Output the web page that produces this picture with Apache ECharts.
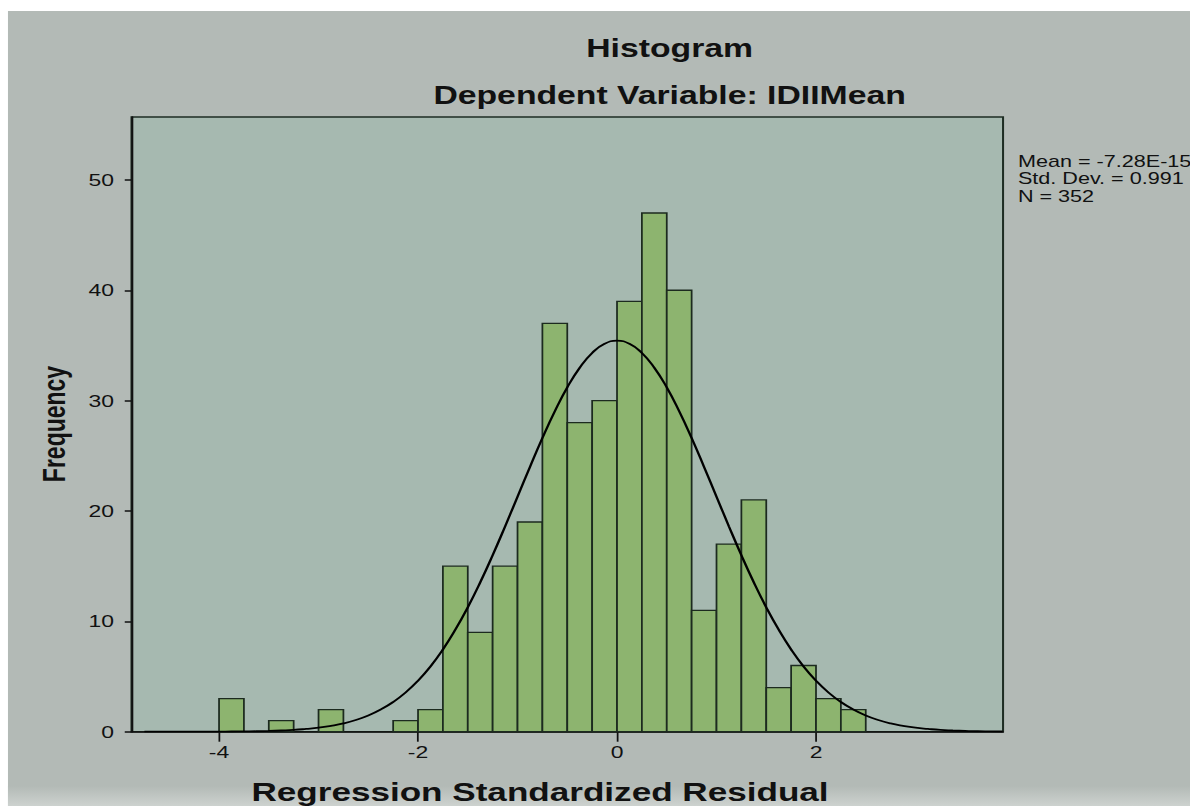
<!DOCTYPE html>
<html>
<head>
<meta charset="utf-8">
<title>Histogram</title>
<script src="https://cdn.jsdelivr.net/npm/echarts@6/dist/echarts.min.js"></script>
<style>
  html, body { margin: 0; padding: 0; background: #fff; overflow: hidden; }
  /* the source picture is stretched sideways, so draw narrow and stretch it */
  #chart { width: 882px; height: 806px; transform: scaleX(1.35); transform-origin: 0 0; }
</style>
</head>
<body>
<div id="chart"></div>
<script>
// histogram bins: lower edge of each bin (width 0.25) and its count
const binStart = [-4, -3.5, -3, -2.25, -2, -1.75, -1.5, -1.25, -1, -0.75, -0.5, -0.25,
  0, 0.25, 0.5, 0.75, 1, 1.25, 1.5, 1.75, 2, 2.25];
const binCount = [3, 1, 2, 1, 2, 15, 9, 15, 19, 37, 28, 30,
  39, 47, 40, 11, 17, 21, 4, 6, 3, 2];
const binWidth = 0.25;

// normal curve
const curveX = [-4.75, -4.5, -4.25,
  -4, -3.875, -3.75, -3.625, -3.5, -3.375, -3.25, -3.125,
  -3, -2.875, -2.75, -2.625, -2.5, -2.375, -2.25, -2.125,
  -2, -1.875, -1.75, -1.625, -1.5, -1.375, -1.25, -1.125,
  -1, -0.875, -0.75, -0.625, -0.5, -0.375, -0.25, -0.125,
  0, 0.125, 0.25, 0.375, 0.5, 0.625, 0.75, 0.875,
  1, 1.125, 1.25, 1.375, 1.5, 1.625, 1.75, 1.875,
  2, 2.125, 2.25, 2.375, 2.5, 2.625, 2.75, 2.875,
  3, 3.125, 3.25, 3.375, 3.5, 3.625, 3.75, 3.875];
const curveY = [0, 0, 0,
  0.01, 0.02, 0.03, 0.04, 0.07, 0.11, 0.16, 0.25,
  0.36, 0.53, 0.75, 1.06, 1.47, 2.01, 2.69, 3.55,
  4.62, 5.91, 7.45, 9.24, 11.27, 13.53, 15.99, 18.6,
  21.29, 23.99, 26.61, 29.04, 31.2, 32.98, 34.32, 35.15,
  35.43, 35.15, 34.32, 32.98, 31.2, 29.04, 26.61, 23.99,
  21.29, 18.6, 15.99, 13.53, 11.27, 9.24, 7.45, 5.91,
  4.62, 3.55, 2.69, 2.01, 1.47, 1.06, 0.75, 0.53,
  0.36, 0.25, 0.16, 0.11, 0.07, 0.04, 0.03, 0.02];

const xTicks = [-4, -2, 0, 2];
const yTicks = [0, 10, 20, 30, 40, 50];
const statLines = ["Mean = -7.28E-15", "Std. Dev. = 0.991", "N = 352"];

const font = "Liberation Sans, Arial, sans-serif";
const ink = "#111";

const chart = echarts.init(document.getElementById("chart"), null, { renderer: "svg" });

const option = {
  backgroundColor: "#b3bab6",
  animation: false,
  grid: {
    left: 97.4,
    right: 139,
    top: 117,
    bottom: 74.3,
    show: true,
    backgroundColor: "#a6b9b0",
    borderColor: "#1e2d23",
    borderWidth: 1.5,
  },
  xAxis: {
    type: "value",
    min: -4.88,
    max: 3.88,
    splitLine: { show: false },
    axisLine: { onZero: false, lineStyle: { color: "#111", width: 1.5 } },
    axisTick: { show: true, customValues: xTicks, length: 10, lineStyle: { color: "#111", width: 1.3 } },
    axisLabel: { customValues: xTicks, margin: 12, fontSize: 17, color: ink, fontFamily: font },
  },
  yAxis: {
    type: "value",
    min: 0,
    max: 55.7,
    splitLine: { show: false },
    axisLine: { show: true, onZero: false, lineStyle: { color: "#111", width: 1.5 } },
    axisTick: { show: true, customValues: yTicks, length: 5, lineStyle: { color: "#111", width: 1.5 } },
    axisLabel: { customValues: yTicks, margin: 13, fontSize: 17, color: ink, fontFamily: font },
  },
  series: [
    {
      type: "custom",
      data: binStart.map((s, i) => [s, s + binWidth, binCount[i]]),
      encode: { x: [0, 1], y: 2 },
      renderItem(params, api) {
        const top = api.coord([api.value(0), api.value(2)]);
        const bottom = api.coord([api.value(1), 0]);
        return {
          type: "rect",
          shape: { x: top[0], y: top[1], width: bottom[0] - top[0], height: bottom[1] - top[1] },
          style: { fill: "#8db46f", stroke: "#1c2a1f", lineWidth: 1.3 },
        };
      },
      z: 2,
    },
    {
      type: "line",
      data: curveX.map((x, i) => [x, curveY[i]]),
      smooth: true,
      showSymbol: false,
      lineStyle: { color: "#000", width: 1.8 },
      z: 3,
    },
  ],
  graphic: [
    // white margin round the grey panel
    { type: "rect", left: 0, top: 0, shape: { width: 882, height: 11 }, style: { fill: "#fff" } },
    { type: "rect", left: 0, top: 0, shape: { width: 5.9, height: 806 }, style: { fill: "#fff" } },
    {
      type: "rect", left: 5.9, top: 786, shape: { width: 877, height: 20 },
      style: {
        fill: new echarts.graphic.LinearGradient(0, 0, 0, 1, [
          { offset: 0, color: "#b3bab6" },
          { offset: 1, color: "#cdd2cf" },
        ]),
      },
    },
    {
      type: "text", x: 496, y: 48, z: 10,
      style: { text: "Histogram", font: "bold 25px " + font, fill: ink, align: "center", verticalAlign: "middle" },
    },
    {
      type: "text", x: 496, y: 95.5, z: 10,
      style: { text: "Dependent Variable: IDIIMean", font: "bold 25px " + font, fill: ink, align: "center", verticalAlign: "middle" },
    },
    {
      type: "text", x: 400, y: 792, z: 10,
      style: { text: "Regression Standardized Residual", font: "bold 26px " + font, fill: ink, align: "center", verticalAlign: "middle" },
    },
    {
      type: "text", x: 40, y: 424, rotation: Math.PI / 2, z: 10,
      style: { text: "Frequency", font: "bold 23px " + font, fill: ink, align: "center", verticalAlign: "middle" },
    },
    ...statLines.map((t, i) => ({
      type: "text", x: 754, y: 161.5 + i * 17.5, z: 10,
      style: { text: t, font: "16px " + font, fill: ink, align: "left", verticalAlign: "middle" },
    })),
  ],
};

chart.setOption(option);
</script>
</body>
</html>
